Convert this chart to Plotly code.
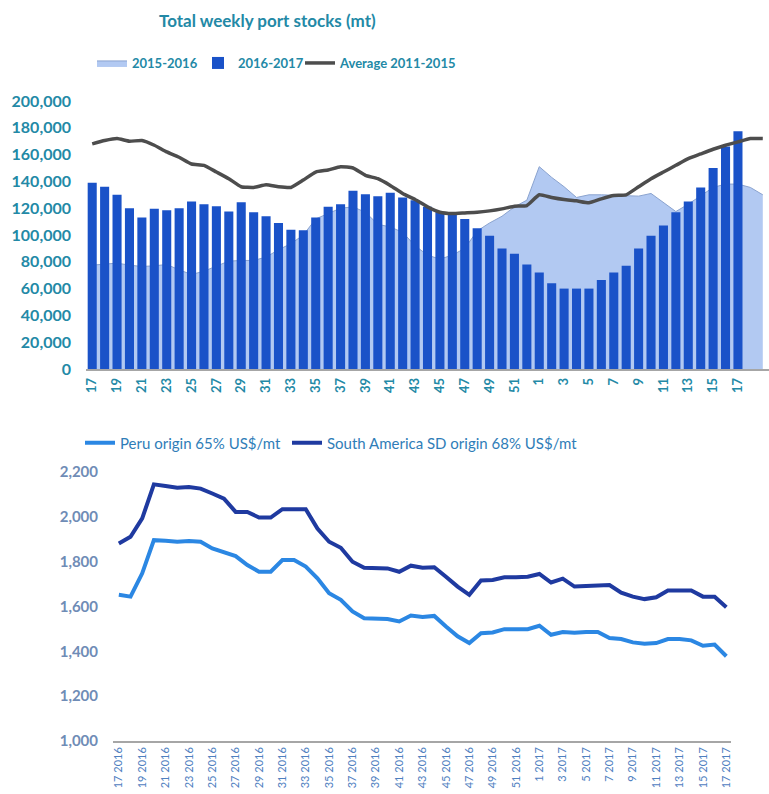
import plotly.graph_objects as go

# ---------------- data: top chart (weekly port stocks, mt) ----------------
weeks_top = [str(w) for w in list(range(17, 53)) + list(range(1, 20))]

stocks_2015_16 = [
    77500, 78000, 79000, 77500, 76500, 77000, 78000, 74000, 70500, 73000,
    77000, 80500, 81000, 81000, 83500, 89000, 93500, 100000, 112000, 116000,
    120000, 121000, 117000, 108000, 106000, 102000, 92000, 85000, 82000, 85000,
    90000, 103000, 109000, 114000, 121000, 126000,
    151000, 143000, 136000, 128000, 130000, 130000, 129500, 129000, 129000, 131000,
    124000, 117500, 123000, 129000, 135500, 138000, 138000, 135500, 130000,
]

stocks_2016_17 = [
    139000, 136000, 130000, 120000, 113000, 119500, 118500, 120000, 125000, 123000,
    121500, 117500, 124500, 117000, 114000, 109000, 104000, 103500, 113000, 121000,
    123000, 133000, 130500, 129000, 131500, 128000, 126000, 121000, 117000, 116000,
    112000, 105000, 99500, 90000, 86000, 78000,
    72000, 64000, 60000, 60000, 60000, 66500, 72000, 77000, 90000, 99500,
    107000, 117000, 125000, 135500, 150000, 166000, 177500,
]

avg_2011_15 = [
    168000, 170500, 172000, 170000, 170500, 167000, 162000, 158000, 153000, 152000,
    147000, 142000, 136000, 135500, 137500, 136000, 135500, 141000, 147000, 148500,
    151000, 150000, 144500, 142000, 137000, 131000, 126500, 121000, 117000, 116000,
    116500, 117000, 118000, 119500, 121500, 122000,
    130000, 128000, 126500, 125500, 124000, 127000, 129500, 130000, 136000, 142000,
    147000, 152000, 157000, 160500, 164000, 167000, 169500, 172000, 172000,
]

# ---------------- data: bottom chart (prices, US$/mt) ----------------
weeks_bottom = [f"{w} 2016" for w in range(17, 53)] + [f"{w} 2017" for w in range(1, 18)]

peru_65 = [
    1652, 1644, 1748, 1896, 1893, 1889, 1892, 1889, 1859, 1840,
    1825, 1785, 1755, 1755, 1807, 1807, 1778, 1726, 1659, 1630,
    1578, 1548, 1548, 1544, 1533, 1560, 1553, 1558, 1511, 1467,
    1437, 1481, 1484, 1499, 1499, 1499,
    1514, 1474, 1486, 1483, 1486, 1486, 1459, 1455, 1440, 1434,
    1437, 1455, 1455, 1449, 1425, 1430, 1378,
]

sa_68 = [
    1881, 1911, 1993, 2145, 2138, 2130, 2133, 2126, 2104, 2081,
    2022, 2022, 1997, 1997, 2034, 2034, 2034, 1948, 1889, 1862,
    1800, 1773, 1773, 1770, 1755, 1782, 1773, 1775, 1733, 1689,
    1652, 1716, 1718, 1730, 1730, 1733,
    1745, 1707, 1724, 1689, 1692, 1692, 1696, 1662, 1644, 1633,
    1641, 1671, 1671, 1671, 1644, 1644, 1597,
]

# ---------------- styling ----------------
W, H = 769, 794
FONT = "Lato, sans-serif"
TEAL = "#2389a6"
BOT_TICK = "#6f8cb6"
BOT_LEG = "#2f7db8"

idx_top = list(range(len(weeks_top)))
idx_bar = idx_top[:len(stocks_2016_17)]


def px_x(p):
    return p / W


def px_y(p):
    return 1 - p / H


fig = go.Figure()

# area on the base axes (drawn underneath)
fig.add_trace(go.Scatter(
    x=idx_top, y=stocks_2015_16, name="2015-2016", mode="lines",
    fill="tozeroy", fillcolor="rgba(178,201,242,1)",
    line=dict(color="#8aa3cf", width=1), legend="legend", showlegend=True,
    xaxis="x", yaxis="y",
))
# bars + average line on overlaying axes (drawn above the area)
fig.add_trace(go.Bar(
    x=idx_bar, y=stocks_2016_17, name="2016-2017",
    marker=dict(color="#1a52c8", line=dict(width=0)), legend="legend3", showlegend=True,
    xaxis="x3", yaxis="y3",
))
fig.add_trace(go.Scatter(
    x=idx_top, y=avg_2011_15, name="Average 2011-2015", mode="lines",
    line=dict(color="#4d4d4d", width=3.5, shape="spline", smoothing=0.4),
    legend="legend4", showlegend=True, xaxis="x3", yaxis="y3",
))

fig.add_trace(go.Scatter(
    x=weeks_bottom, y=peru_65, name="Peru origin 65% US$/mt", mode="lines",
    line=dict(color="#2b87e3", width=4), legend="legend2", showlegend=True,
    xaxis="x2", yaxis="y2",
))
fig.add_trace(go.Scatter(
    x=weeks_bottom, y=sa_68, name="South America SD origin 68% US$/mt", mode="lines",
    line=dict(color="#1f3aa0", width=4), legend="legend5", showlegend=True,
    xaxis="x2", yaxis="y2",
))

top_xdom = [px_x(86), 1.0]
top_ydom = [px_y(369), px_y(101)]

top_leg_font = dict(family=FONT, size=13, color=TEAL, weight="bold")
bot_leg_font = dict(family=FONT, size=15, color=BOT_LEG)


def leg(xpx, ypx, font):
    return dict(
        orientation="h", x=px_x(xpx), y=px_y(ypx), xanchor="left", yanchor="middle",
        font=font, bgcolor="rgba(0,0,0,0)", itemwidth=30, visible=True,
    )


fig.update_layout(
    width=W, height=H,
    showlegend=True,
    margin=dict(l=0, r=0, t=0, b=0, autoexpand=False),
    paper_bgcolor="white", plot_bgcolor="white",
    font=dict(family=FONT),
    bargap=0.27,
    xaxis=dict(
        domain=top_xdom, range=[-0.5, 54.5],
        tickmode="array", tickvals=idx_top[::2], ticktext=weeks_top[::2],
        tickangle=-90, tickfont=dict(family=FONT, size=13, color=TEAL, weight="bold"),
        showgrid=False, zeroline=False, showline=True, linecolor="#a6a6a6", linewidth=1.5,
        ticks="", anchor="y", ticklabelstandoff=2, automargin=False,
    ),
    yaxis=dict(
        domain=top_ydom, range=[0, 200000],
        tickmode="array", tickvals=list(range(0, 200001, 20000)),
        tickformat=",d",
        tickfont=dict(family=FONT, size=16, color=TEAL, weight="bold"),
        showgrid=False, zeroline=False, showline=False, ticks="", anchor="x",
        ticklabelstandoff=14, automargin=False,
    ),
    xaxis3=dict(
        domain=top_xdom, range=[-0.5, 54.5], overlaying="x", anchor="y3",
        visible=False, showgrid=False, zeroline=False, automargin=False,
    ),
    yaxis3=dict(
        domain=top_ydom, range=[0, 200000], overlaying="y", anchor="x3",
        visible=False, showgrid=False, zeroline=False, automargin=False,
    ),
    xaxis2=dict(
        domain=[px_x(113), px_x(731)], range=[-0.5, 52.4],
        type="category",
        tickmode="array", tickvals=weeks_bottom[::2], ticktext=weeks_bottom[::2],
        tickangle=-90, tickfont=dict(family=FONT, size=11, color="#4f80bf"),
        showgrid=False, zeroline=False, showline=True, linecolor="#a6a6a6", linewidth=1.5,
        ticks="", anchor="y2", automargin=False,
    ),
    yaxis2=dict(
        domain=[px_y(741), px_y(472)], range=[1000, 2200],
        tickmode="array", tickvals=list(range(1000, 2201, 200)),
        tickformat=",d",
        tickfont=dict(family=FONT, size=15, color=BOT_TICK, weight="bold"),
        showgrid=False, zeroline=False, showline=False, ticks="", anchor="x2",
        ticklabelstandoff=14, automargin=False,
    ),
    legend=leg(92, 63, top_leg_font),
    legend3=leg(198, 63, top_leg_font),
    legend4=leg(300, 63, top_leg_font),
    legend2=leg(80, 443, bot_leg_font),
    legend5=leg(287, 443, bot_leg_font),
    annotations=[dict(
        text="Total weekly port stocks (mt)", x=px_x(267), y=px_y(20),
        xref="paper", yref="paper", xanchor="center", yanchor="middle",
        showarrow=False, font=dict(family=FONT, size=17, color=TEAL, weight="bold"),
    )],
)

fig.write_html("out.html")
